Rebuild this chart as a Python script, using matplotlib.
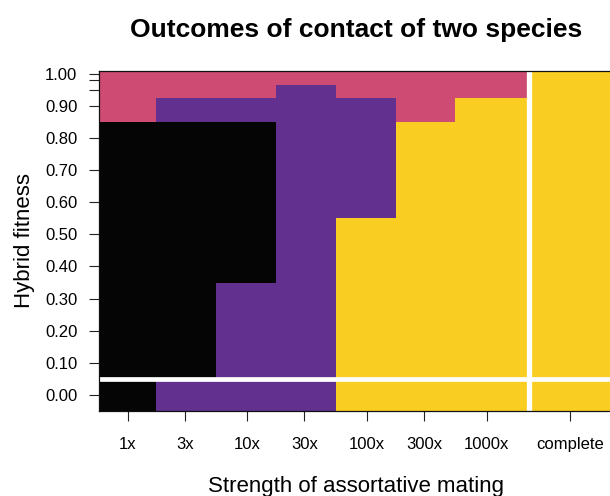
import numpy as np
import matplotlib
matplotlib.use("Agg")
import matplotlib.pyplot as plt
from matplotlib.colors import ListedColormap

plt.rcParams['font.family'] = ['Liberation Sans', 'DejaVu Sans']

# strength of assortative mating (complete is drawn at 5000x)
mating_strength = [1, 3, 10, 30, 100, 300, 1000, 5000]
strength_labels = ["1x", "3x", "10x", "30x", "100x", "300x", "1000x", "complete"]

# hybrid fitness levels (rows)
hybrid_fitness = [0.0, 0.1, 0.2, 0.3, 0.4, 0.5, 0.6, 0.7, 0.8, 0.9, 0.95, 0.98, 1.0]

# outcome per column, listed from fitness 0 up to fitness 1
# 0 = black, 1 = purple, 2 = pink, 3 = yellow
out_1x    = [0, 0, 0, 0, 0, 0, 0, 0, 0, 2, 2, 2, 2]
out_3x    = [1, 0, 0, 0, 0, 0, 0, 0, 0, 1, 2, 2, 2]
out_10x   = [1, 1, 1, 1, 0, 0, 0, 0, 0, 1, 2, 2, 2]
out_30x   = [1, 1, 1, 1, 1, 1, 1, 1, 1, 1, 1, 2, 2]
out_100x  = [3, 3, 3, 3, 3, 3, 1, 1, 1, 1, 2, 2, 2]
out_300x  = [3, 3, 3, 3, 3, 3, 3, 3, 3, 2, 2, 2, 2]
out_1000x = [3, 3, 3, 3, 3, 3, 3, 3, 3, 3, 2, 2, 2]
out_compl = [3, 3, 3, 3, 3, 3, 3, 3, 3, 3, 3, 3, 3]

outcome_colors = ["#050505", "#62318F", "#CE4B73", "#FACD22"]

# %%

def cell_edges(centres):
    # edges halfway between centres, outer cells extended by half a step
    c = np.asarray(centres, dtype=float)
    mid = (c[:-1] + c[1:]) / 2
    first = c[0] - (c[1] - c[0]) / 2
    last = c[-1] + (c[-1] - c[-2]) / 2
    return np.concatenate([[first], mid, [last]])


outcomes = np.array([out_1x, out_3x, out_10x, out_30x,
                     out_100x, out_300x, out_1000x, out_compl]).T

x_edges = 10 ** cell_edges(np.log10(mating_strength))
y_edges = cell_edges(hybrid_fitness)

fig = plt.figure(figsize=(6.10, 4.96), dpi=100)
ax = fig.add_axes([99.1 / 610, 85 / 496, 513.2 / 610, 340.5 / 496])

ax.pcolormesh(x_edges, y_edges, outcomes,
              cmap=ListedColormap(outcome_colors), vmin=-0.5, vmax=3.5,
              edgecolors='face', linewidth=0, antialiased=False)

ax.set_xscale('log')
ax.set_xlim(x_edges[0], x_edges[-1])
ax.set_ylim(y_edges[0], y_edges[-1])

# separate the fitness-0 row and the complete column
ax.axhline(y_edges[1], color='white', lw=3.4)
ax.axvline(x_edges[-2], color='white', lw=3.8)

ax.xaxis.set_minor_locator(plt.NullLocator())
ax.set_xticks(mating_strength)
ax.set_xticklabels(strength_labels)

y_labels = ["%.2f" % v if v not in (0.95, 0.98) else "" for v in hybrid_fitness]
ax.set_yticks(hybrid_fitness)
ax.set_yticklabels(y_labels)

ax.tick_params(axis='both', length=7.2, width=0.8, color='#222222',
               labelsize=12)
ax.tick_params(axis='x', pad=11.5)
ax.tick_params(axis='y', pad=8.5)

for s in ax.spines.values():
    s.set_linewidth(0.9)
    s.set_color('#111111')

ax.set_title("Outcomes of contact of two species", fontsize=19,
             fontweight='bold', pad=24)
ax.set_xlabel("Strength of assortative mating", fontsize=16, labelpad=17)
ax.set_ylabel("Hybrid fitness", fontsize=16, labelpad=7)

fig.savefig("out.png", dpi=100)
